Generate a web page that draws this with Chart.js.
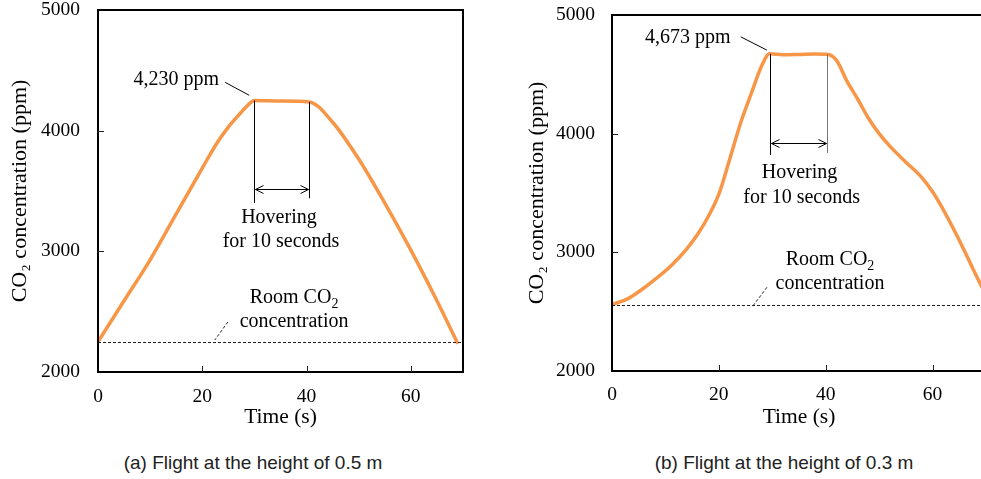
<!DOCTYPE html>
<html>
<head>
<meta charset="utf-8">
<script src="https://cdn.jsdelivr.net/npm/chart.js@4"></script>
<style>
  html, body { margin: 0; padding: 0; background: #fff; overflow: hidden; }
  #wrap { position: relative; width: 981px; height: 479px; overflow: hidden; }
  canvas { position: absolute; top: 0; }
  #chartA { left: 0; }
  #chartB { left: 500px; }
  .caption { position: absolute; top: 453px; line-height: 20px; font-size: 19px; font-family: "Liberation Sans", Arial, sans-serif;
             color: #222; white-space: nowrap; transform: translateX(-50%); }
</style>
</head>
<body>
<div id="wrap">
  <canvas id="chartA" width="480" height="432"></canvas>
  <canvas id="chartB" width="500" height="432"></canvas>
  <div class="caption" style="left:253px">(a) Flight at the height of 0.5 m</div>
  <div class="caption" style="left:784px">(b) Flight at the height of 0.3 m</div>
</div>
<script>
// (a) flight at 0.5 m
const timeA = [0, 5, 10, 15, 20, 23, 25, 27, 28.5, 30, 35, 40.5, 45, 50, 55, 60, 65, 69];
const co2A = [2250, 2590, 2930, 3310, 3690, 3910, 4030, 4130, 4200, 4250, 4245, 4238, 4070, 3765, 3400, 3010, 2590, 2235];
const roomA = 2250;
const hoverA = [30, 40.5];

// (b) flight at 0.3 m
const timeB = [0, 3, 5, 8, 11, 14, 16, 18, 20, 22, 24, 26, 28, 29.5, 32, 35, 38, 40.2, 42, 44, 46, 48, 50, 52, 55, 58, 60, 62, 64, 66, 68, 70];
const co2B = [2560, 2610, 2668, 2770, 2885, 3030, 3150, 3300, 3490, 3780, 4080, 4330, 4570, 4673, 4665, 4668, 4672, 4670, 4620, 4440, 4290, 4130, 4000, 3895, 3760, 3630, 3510, 3360, 3190, 3010, 2820, 2640];
const roomB = 2560;
const hoverB = [29.5, 40.2];

const xTicks = [0, 20, 40, 60];
const yTicks = [2000, 3000, 4000, 5000];

const serif = '"Liberation Serif", "Times New Roman", serif';
const orange = "#F79646";

function seg(ctx, x1, y1, x2, y2) {
	ctx.beginPath();
	ctx.moveTo(x1, y1);
	ctx.lineTo(x2, y2);
	ctx.stroke();
}

// annotations: leader lines, hovering interval, room level
function makeNotes(cfg) {
	return {
		id: "notes",
		afterDatasetsDraw(chart) {
			const { ctx, chartArea: a } = chart;
			const px = (v) => chart.scales.x.getPixelForValue(v);
			const py = (v) => chart.scales.y.getPixelForValue(v);
			ctx.save();
			ctx.lineWidth = 1;

			// room CO2 level
			ctx.strokeStyle = "#222";
			ctx.setLineDash([3, 2]);
			seg(ctx, a.left, Math.round(py(cfg.room)) + 0.5, a.right, Math.round(py(cfg.room)) + 0.5);
			const rl = cfg.roomLeader;
			seg(ctx, px(rl[0]), py(rl[1]), px(rl[2]), py(rl[3]));
			ctx.setLineDash([]);

			// peak label leader
			ctx.strokeStyle = "#000";
			const pl = cfg.peakLeader;
			seg(ctx, px(pl[0]), py(pl[1]), px(pl[2]), py(pl[3]));

			// hovering markers
			const h = cfg.hover;
			const hx0 = Math.round(px(h[0])) + 0.5, hx1 = Math.round(px(h[1])) + 0.5;
			seg(ctx, hx0, py(cfg.peakStart), hx0, py(cfg.vEnd[0]));
			ctx.strokeStyle = cfg.secondColor;
			seg(ctx, hx1, py(cfg.peakEnd), hx1, py(cfg.vEnd[1]));
			ctx.strokeStyle = "#000";
			const ay = Math.round(py(cfg.arrowY)) + 0.5;
			const x1 = hx0 + 1, x2 = hx1 - 1;
			seg(ctx, x1, ay, x2, ay);
			ctx.beginPath();
			ctx.moveTo(x1 + 8, ay - 4); ctx.lineTo(x1, ay); ctx.lineTo(x1 + 8, ay + 4);
			ctx.moveTo(x2 - 8, ay - 4); ctx.lineTo(x2, ay); ctx.lineTo(x2 - 8, ay + 4);
			ctx.stroke();

			// texts
			ctx.fillStyle = "#000";
			ctx.textAlign = "center";
			ctx.textBaseline = "middle";
			ctx.font = "20px " + serif;
			ctx.fillText(cfg.peakText, px(cfg.peakPos[0]), py(cfg.peakPos[1]));
			ctx.fillText("Hovering", px(cfg.hoverPos[0]), py(cfg.hoverPos[1]));
			ctx.fillText("for 10 seconds", px(cfg.hoverPos[2]), py(cfg.hoverPos[3]));
			ctx.fillText("concentration", px(cfg.roomPos[0]), py(cfg.roomPos[2]));

			const big = "20px " + serif, small = "14px " + serif;
			ctx.font = big;
			const w1 = ctx.measureText("Room CO").width;
			ctx.font = small;
			const w2 = ctx.measureText("2").width;
			const x0 = px(cfg.roomPos[0]) - (w1 + w2) / 2;
			const ry = py(cfg.roomPos[1]);
			ctx.textAlign = "left";
			ctx.font = big;
			ctx.fillText("Room CO", x0, ry);
			ctx.font = small;
			ctx.fillText("2", x0 + w1, ry + 6);
			ctx.restore();
		},
		afterDraw(chart) {
			const { ctx, chartArea: a, scales } = chart;
			ctx.save();
			ctx.strokeStyle = "#000";
			ctx.lineWidth = 2;
			ctx.strokeRect(a.left, a.top, a.right - a.left, a.bottom - a.top);
			ctx.lineWidth = 1;
			ctx.strokeStyle = "#222";
			xTicks.slice(1).forEach((v) => {
				const x = Math.round(scales.x.getPixelForValue(v)) + 0.5;
				seg(ctx, x, a.bottom, x, a.bottom - 6);
			});
			yTicks.slice(1, -1).forEach((v) => {
				const y = Math.round(scales.y.getPixelForValue(v)) + 0.5;
				seg(ctx, a.left, y, a.left + 6, y);
			});
			ctx.restore();
		},
	};
}

function build(id, times, values, lay, cfg) {
	const pts = times.map((t, i) => ({ x: t, y: values[i] }));
	return new Chart(document.getElementById(id), {
		type: "line",
		data: {
			datasets: [
				{
					data: pts,
					borderColor: orange,
					borderWidth: 3.5,
					pointRadius: 0,
					fill: false,
					cubicInterpolationMode: "monotone",
				},
			],
		},
		options: {
			responsive: false,
			animation: false,
			events: [],
			layout: { padding: { left: lay.padLeft, top: lay.padTop, right: lay.padRight, bottom: 0 } },
			plugins: { legend: { display: false }, tooltip: { enabled: false } },
			scales: {
				x: {
					type: "linear",
					min: 0,
					max: 70,
					grid: { display: false, drawTicks: false },
					border: { display: false },
					afterBuildTicks: (s) => { s.ticks = xTicks.map((v) => ({ value: v })); },
					afterFit: (s) => { s.height = lay.xHeight; s.paddingLeft = 0; s.paddingRight = 0; },
					ticks: { color: "#000", padding: lay.xTickPad, maxRotation: 0, callback: (v) => String(v), font: { family: serif, size: 19.5 } },
					title: { display: true, text: "Time (s)", color: "#000", padding: { top: 0, bottom: 2 }, font: { family: serif, size: 21.5 } },
				},
				y: {
					min: 2000,
					max: 5000,
					grid: { display: false, drawTicks: false },
					border: { display: false },
					afterBuildTicks: (s) => { s.ticks = yTicks.map((v) => ({ value: v })); },
					afterFit: (s) => { s.width = lay.yWidth; s.paddingTop = 0; s.paddingBottom = 0; },
					ticks: { color: "#000", padding: lay.yTickPad, callback: (v) => String(v), font: { family: serif, size: 19.5 } },
					title: { display: true, text: "CO\u2082 concentration (ppm)", color: "#000", padding: { top: 0, bottom: 0 }, font: { family: serif, size: 22 } },
				},
			},
		},
		plugins: [makeNotes(cfg)],
	});
}

build("chartA", timeA, co2A,
	{ padLeft: 7, padTop: 10, padRight: 17, yWidth: 91, xHeight: 60, yTickPad: 18, xTickPad: 13 },
	{
		room: roomA, hover: hoverA, peakStart: 4250, peakEnd: 4238, vEnd: [3400, 3440], secondColor: "#000",
		arrowY: 3515, peakText: "4,230 ppm", peakPos: [15.0, 4425], peakLeader: [24.4, 4400, 29.0, 4293],
		hoverPos: [34.7, 3275, 35.1, 3076], roomPos: [37.6, 2613, 2414], roomLeader: [24.9, 2414, 22.4, 2265],
	});

build("chartB", timeB, co2B,
	{ padLeft: 24, padTop: 15, padRight: 14, yWidth: 88, xHeight: 61, yTickPad: 17, xTickPad: 12 },
	{
		room: roomB, hover: hoverB, peakStart: 4673, peakEnd: 4670, vEnd: [3820, 3837], secondColor: "#777",
		arrowY: 3923, peakText: "4,673 ppm", peakPos: [14.2, 4805], peakLeader: [24.1, 4816, 29.0, 4704],
		hoverPos: [35.1, 3668, 35.5, 3457], roomPos: [40.8, 2935, 2733], roomLeader: [29.0, 2705, 26.5, 2556],
	});
</script>
</body>
</html>
